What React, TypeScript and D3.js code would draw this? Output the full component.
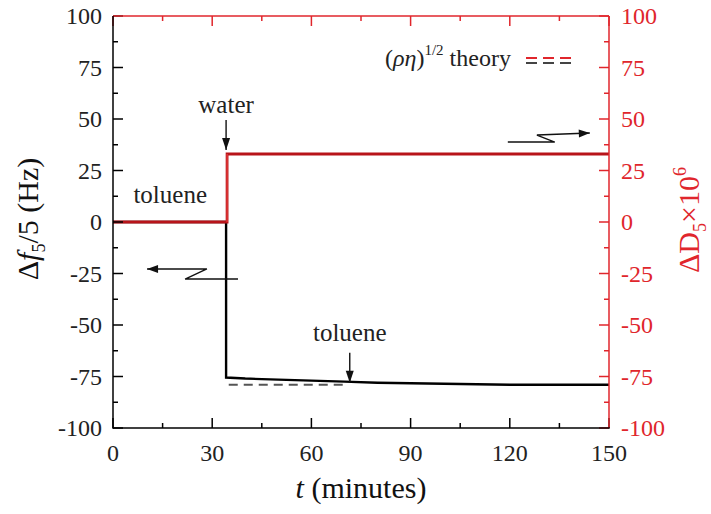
import React from 'react';
import * as d3 from 'd3';

const freqTime = [0, 34.2, 34.2, 40, 50, 60, 70, 80, 100, 120, 150];
const freqShift = [0, 0, -75.5, -76, -76.5, -77, -77.5, -78, -78.5, -79, -79];
const dissTime = [0, 34.5, 34.5, 150];
const dissShift = [0, 0, 33, 33];

// (rho eta)^1/2 theory level
const theoryTime = [35, 71];
const theoryShift = [-79, -79];

const xTicks = [0, 30, 60, 90, 120, 150];
const yTicks = [-100, -75, -50, -25, 0, 25, 50, 75, 100];

// annotation arrows
const waterArrowT = [34.2, 34.2];
const waterArrowV = [49.5, 35];
const tolueneArrowT = [71.6, 71.6];
const tolueneArrowV = [-63.5, -78];
const leftZigT = [37.8, 21.8, 28.4, 10.3];
const leftZigV = [-27.7, -27.7, -22.8, -22.8];
const rightZigT = [119.4, 133.6, 128.2, 144.2];
const rightZigV = [38.8, 38.8, 42.2, 43.2];

const W = 711;
const H = 514;
const margin = { top: 16, right: 102, bottom: 86, left: 113 };
const RED = '#e0262c';
const DARKRED = '#b8141a';
const FONT = "'Liberation Serif'";

const x = d3.scaleLinear().domain([0, 150]).range([margin.left, W - margin.right]);
const y = d3.scaleLinear().domain([-100, 100]).range([H - margin.bottom, margin.top]);
const line = d3.line().x(d => x(d[0])).y(d => y(d[1]));
const pts = (ts, vs) => ts.map((t, i) => [t, vs[i]]);

// filled head at the last point of an arrow path
const head = (ts, vs, len, half) => {
    const n = ts.length;
    const ax = x(ts[n - 1]), ay = y(vs[n - 1]);
    const bx = x(ts[n - 2]), by = y(vs[n - 2]);
    const a = Math.atan2(ay - by, ax - bx);
    const cx = ax - len * Math.cos(a), cy = ay - len * Math.sin(a);
    const px = -Math.sin(a) * half, py = Math.cos(a) * half;
    return `M${ax},${ay}L${cx + px},${cy + py}L${cx - px},${cy - py}Z`;
};

const App = () => {
    const x0 = x(0), x1 = x(150), y0 = y(-100), y1 = y(100);
    const tf = { fontFamily: FONT };
    const minorX = d3.range(0, 151, 15);
    const minorY = d3.range(-100, 100.1, 12.5);
    const fmt = v => (v < 0 ? '-' + Math.abs(v) : String(v));

    return (
        <svg width={W} height={H} style={{ position: 'absolute', left: 0, top: 0, background: 'white', fontFamily: FONT }}>
            {/* data */}
            <path d={line(pts(freqTime, freqShift))} fill="none" stroke="#000" strokeWidth={2.4} />
            <path d={line(pts(theoryTime, theoryShift))} fill="none" stroke="#555" strokeWidth={2} strokeDasharray="9,6" />
            <path d={line(pts(dissTime, dissShift))} fill="none" stroke={DARKRED} strokeWidth={2.8} />
            <path d={line(pts(dissTime, dissShift).slice(1, 3))} fill="none" stroke="#e23a3a" strokeWidth={1.4} />

            {/* ticks */}
            <g strokeWidth={1.5}>
                {minorX.map((t, i) => {
                    const len = i % 2 === 0 ? 10 : 5;
                    return (
                        <g key={'x' + t}>
                            <line x1={x(t)} x2={x(t)} y1={y0} y2={y0 - len} stroke="#000" />
                            <line x1={x(t)} x2={x(t)} y1={y1} y2={y1 + len} stroke={RED} />
                        </g>
                    );
                })}
                {minorY.map((v, i) => {
                    const len = i % 2 === 0 ? 10 : 5;
                    return (
                        <g key={'y' + v}>
                            <line x1={x0} x2={x0 + len} y1={y(v)} y2={y(v)} stroke="#000" />
                            <line x1={x1} x2={x1 - len} y1={y(v)} y2={y(v)} stroke={RED} />
                        </g>
                    );
                })}
                <line x1={x0} x2={x1} y1={y1} y2={y1} stroke={RED} />
                <line x1={x1} x2={x1} y1={y1} y2={y0} stroke={RED} />
                <line x1={x0} x2={x1 + 0.75} y1={y0} y2={y0} stroke="#000" />
                <line x1={x0} x2={x0} y1={y0 + 0.75} y2={y1} stroke="#000" />
            </g>

            {/* tick labels */}
            {xTicks.map(t => (
                <text key={'xl' + t} x={x(t)} y={y0 + 33} fontSize={24} textAnchor="middle" fill="#222" style={tf}>{t}</text>
            ))}
            {yTicks.map(v => (
                <g key={'yl' + v}>
                    <text x={x0 - 11} y={y(v) + 8} fontSize={24} textAnchor="end" fill="#222" style={tf}>{fmt(v)}</text>
                    <text x={x1 + 12} y={y(v) + 8} fontSize={24} textAnchor="start" fill={RED} style={tf}>{fmt(v)}</text>
                </g>
            ))}

            {/* axis titles */}
            <text x={(x0 + x1) / 2} y={498} fontSize={30} textAnchor="middle" fill="#111" style={tf}>
                <tspan fontStyle="italic" style={tf}>t</tspan>
                <tspan style={tf}> (minutes)</tspan>
            </text>
            <text transform={`translate(38,${y(0) - 3}) rotate(-90)`} fontSize={30} textAnchor="middle" fill="#111" style={tf}>
                <tspan style={tf}>Δ</tspan>
                <tspan fontStyle="italic" style={tf}>f</tspan>
                <tspan fontSize={18} dy={7} style={tf}>5</tspan>
                <tspan dy={-7} style={tf}>/5 (Hz)</tspan>
            </text>
            <text transform={`translate(699,${y(0) - 2}) rotate(-90)`} fontSize={30} textAnchor="middle" fill={RED} style={tf}>
                <tspan style={tf}>ΔD</tspan>
                <tspan fontSize={18} dy={7} style={tf}>5</tspan>
                <tspan dy={-7} style={tf}>×10</tspan>
                <tspan fontSize={18} dy={-13} style={tf}>6</tspan>
            </text>

            {/* annotations */}
            <text x={x(34.2)} y={113} fontSize={25} fill="#222" textAnchor="middle" style={tf}>water</text>
            <text x={x(17.3)} y={203} fontSize={25} fill="#222" textAnchor="middle" style={tf}>toluene</text>
            <text x={x(71.6)} y={341} fontSize={25} fill="#222" textAnchor="middle" style={tf}>toluene</text>
            <g fill="none" stroke="#111" strokeWidth={1.4}>
                <path d={line(pts(waterArrowT, waterArrowV))} />
                <path d={line(pts(tolueneArrowT, tolueneArrowV))} />
                <path d={line(pts(leftZigT, leftZigV))} />
                <path d={line(pts(rightZigT, rightZigV))} />
            </g>
            <g fill="#111" stroke="none">
                <path d={head(waterArrowT, waterArrowV, 12, 4)} />
                <path d={head(tolueneArrowT, tolueneArrowV, 12, 4)} />
                <path d={head(leftZigT, leftZigV, 11, 4)} />
                <path d={head(rightZigT, rightZigV, 11, 4)} />
            </g>

            {/* legend */}
            <text x={385} y={66} fontSize={24} fill="#222" style={tf}>
                <tspan style={tf}>(</tspan>
                <tspan fontStyle="italic" style={tf}>ρη</tspan>
                <tspan style={tf}>)</tspan>
                <tspan fontSize={15} dy={-11} style={tf}>1/2</tspan>
                <tspan dy={11} style={tf}> theory</tspan>
            </text>
            <line x1={526} x2={572} y1={58} y2={58} stroke={RED} strokeWidth={2.2} strokeDasharray="11,6" />
            <line x1={526} x2={572} y1={63} y2={63} stroke="#444" strokeWidth={2.2} strokeDasharray="11,6" />
        </svg>
    );
};

export default App;
